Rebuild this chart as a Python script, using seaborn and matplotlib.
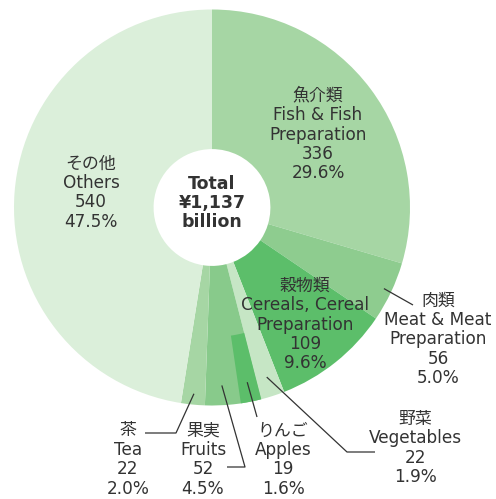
import numpy as np
import matplotlib
matplotlib.use("Agg")
import matplotlib.pyplot as plt
import seaborn as sns

# data (billion yen)
labels_ja = ["魚介類", "肉類", "穀物類", "野菜", "果実", "茶", "その他"]
labels_en = ["Fish & Fish\nPreparation", "Meat & Meat\nPreparation",
             "Cereals, Cereal\nPreparation", "Vegetables", "Fruits", "Tea", "Others"]
values = [336, 56, 109, 22, 52, 22, 540]
percents = ["29.6%", "5.0%", "9.6%", "1.9%", "4.5%", "2.0%", "47.5%"]
apples_value = 19          # part of fruits
apples_percent = "1.6%"
total = 1137

colors = ["#a6d6a4", "#8ecc8f", "#5cbe6a", "#c6e6c5", "#88ca8b", "#a6d6a4", "#dbefda"]
apple_color = "#5cbe6a"
text_color = "#333333"

sns.set_theme(style="white")
plt.rcParams["font.family"] = ["DejaVu Sans", "Noto Sans CJK JP"]

fig = plt.figure(figsize=(4.96, 4.99), dpi=100)
ax = fig.add_axes([0, 0, 1, 1])

# pixel layout helpers: centre (212, 207.5), radius 198 px
CX, CY, R = 212, 207.5, 198


def px(x, y):
    return (x - CX) / R, (CY - y) / R


inner = 0.295
wedges, _ = ax.pie(values, colors=colors, startangle=90, counterclock=False,
                   radius=1, wedgeprops=dict(width=1 - inner, linewidth=0))

# apples drawn as an outer band at the start of the fruits slice
before = sum(values[:4])
apple_w, _ = ax.pie([before, apples_value, total - before - apples_value],
                    colors=["none", apple_color, "none"], startangle=90,
                    counterclock=False, radius=1,
                    wedgeprops=dict(width=1 - 0.654, linewidth=0))

ax.set_aspect("equal")
ax.set_xlim(px(0, 0)[0], px(496, 0)[0])
ax.set_ylim(px(0, 499)[1], px(0, 0)[1])
ax.axis("off")

fs = 12.2
ls = 1.1


def block(i):
    return f"{labels_ja[i]}\n{labels_en[i]}\n{values[i]}\n{percents[i]}"


def put(text, x, y, size=fs, **kw):
    ax.text(*px(x, y), text, ha="center", va="center", fontsize=size,
            color=text_color, linespacing=ls, **kw)


put(f"Total\n¥{total:,}\nbillion", 212, 203, size=12.5, fontweight="bold")
put(block(0), 318, 134.5)
put(block(6), 91, 192.5)
put(block(2), 305, 324.5)
put(block(1), 438, 339.5)
put(block(3), 415, 448)
put(f"りんご\nApples\n{apples_value}\n{apples_percent}", 283, 459.5)
put(block(4), 203, 459.5)
put(block(5), 128, 459.5)


def start(theta1, theta2, r):
    a = np.deg2rad((theta1 + theta2) / 2)
    return r * np.cos(a), r * np.sin(a)


def leader(p0, pts):
    xs = [p0[0]] + [px(*p)[0] for p in pts]
    ys = [p0[1]] + [px(*p)[1] for p in pts]
    ax.plot(xs, ys, color=text_color, lw=0.9, solid_capstyle="butt")


w = wedges
aw = apple_w[1]
leader(start(w[1].theta1, w[1].theta2, 0.96), [(413, 305)])
leader(start(w[3].theta1, w[3].theta2, 0.9), [(347, 452), (375, 452)])
leader(start(aw.theta1, aw.theta2, 0.9), [(257, 417)])
leader(start(w[4].theta1, aw.theta1, 0.9), [(245, 467), (227, 467)])
leader(start(w[5].theta1, w[5].theta2, 0.945), [(176, 433), (145, 433)])

fig.savefig("out.png", dpi=100)
